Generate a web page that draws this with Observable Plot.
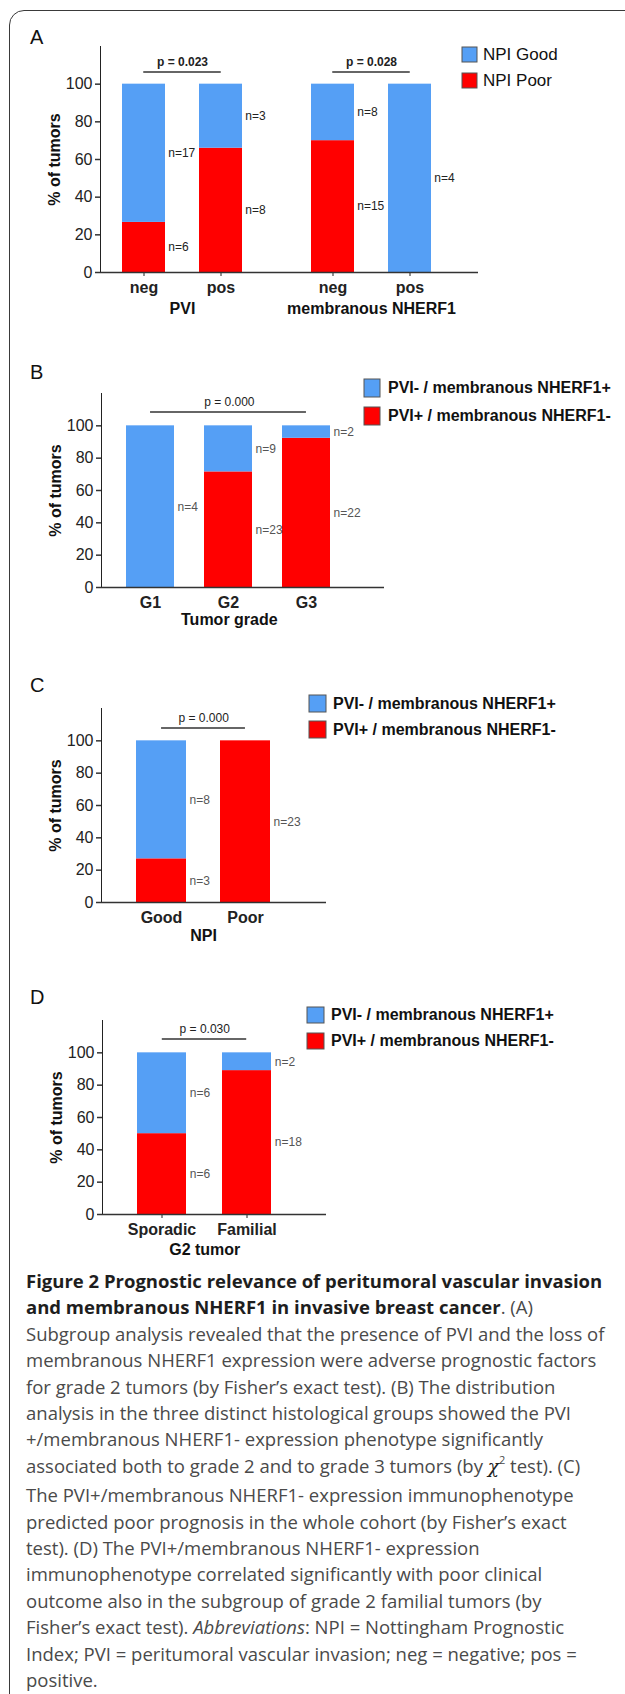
<!DOCTYPE html>
<html>
<head>
<meta charset="utf-8">
<script src="https://cdn.jsdelivr.net/npm/d3@7"></script>
<script src="https://cdn.jsdelivr.net/npm/@observablehq/plot@0.6"></script>
<style>
  html, body { margin: 0; padding: 0; background: #fff; }
  #page { position: relative; width: 625px; height: 1694px; overflow: hidden; background: #fff;
          font-family: "Liberation Sans", Arial, sans-serif; }
  #frame { position: absolute; left: 9px; top: 10px; width: 800px; height: 1800px;
           border: 1.5px solid #3a3a3a; border-radius: 15px; box-sizing: border-box; }
  .panel-label { position: absolute; left: 30px; font-size: 20px; line-height: 20px; color: #111; }
  .chart { position: absolute; }
  .chart svg g[aria-label^="x-axis"] text { font-weight: bold; font-size: 16px; }
  .chart svg g[aria-label^="y-axis"] path,
  .chart svg g[aria-label^="y-axis"] line { stroke-width: 1.5px; stroke: #333; }
  .chart svg g[aria-label^="x-axis"] line { stroke-width: 1.5px; stroke: #333; }
  .legend { position: absolute; width: 300px; }
  .lga-swatches, .lgb-swatches, .lgc-swatches, .lgd-swatches {
    margin: 0 !important; color: #111 !important; font-family: "Liberation Sans", Arial, sans-serif !important; }
  .lga-swatches { font-size: 17px !important; font-weight: normal !important; }
  .lgb-swatches, .lgc-swatches, .lgd-swatches { font-size: 16px !important; font-weight: bold !important; }
  .lga-swatch, .lgc-swatch { padding-bottom: 9px !important; }
  .lgb-swatch, .lgd-swatch { padding-bottom: 10px !important; }
  .lga-swatch svg rect, .lgb-swatch svg rect, .lgc-swatch svg rect, .lgd-swatch svg rect { stroke: #555; stroke-width: 1px; }
  .lga-swatch-label, .lgb-swatch-label, .lgc-swatch-label, .lgd-swatch-label {
    overflow: visible !important; max-width: none !important; line-height: 1 !important; }
  .lga-swatch svg { margin-right: 6px !important; }
  .lgb-swatch svg { margin-right: 8px !important; }
  .lgc-swatch svg, .lgd-swatch svg { margin-right: 7px !important; }
  #caption { position: absolute; left: 26px; top: 1268px; width: 600px;
             font-family: "Open Sans", "Noto Sans", sans-serif; font-size: 18.5px; line-height: 26.4px; color: #4a4a4a; }
  #caption div { white-space: nowrap; }
  #caption b { color: #1e1e1e; font-weight: bold; }
  .chi { font-family: "DejaVu Serif", "Liberation Serif", serif; font-style: italic; color: #222; }
  .sup2 { font-size: 11px; position: relative; top: -9px; }
</style>
</head>
<body>
<div id="page">
  <div id="frame"></div>
  <div class="panel-label" style="top:27px">A</div>
  <div class="panel-label" style="top:362px">B</div>
  <div class="panel-label" style="top:675px">C</div>
  <div class="panel-label" style="top:987px">D</div>
  <div id="caption">
    <div><b>Figure 2 Prognostic relevance of peritumoral vascular invasion</b></div>
    <div><b>and membranous NHERF1 in invasive breast cancer</b>. (A)</div>
    <div>Subgroup analysis revealed that the presence of PVI and the loss of</div>
    <div>membranous NHERF1 expression were adverse prognostic factors</div>
    <div>for grade 2 tumors (by Fisher’s exact test). (B) The distribution</div>
    <div>analysis in the three distinct histological groups showed the PVI</div>
    <div>+/membranous NHERF1- expression phenotype significantly</div>
    <div>associated both to grade 2 and to grade 3 tumors (by <span class="chi">χ</span><span class="sup2">2</span> test). (C)</div>
    <div>The PVI+/membranous NHERF1- expression immunophenotype</div>
    <div>predicted poor prognosis in the whole cohort (by Fisher’s exact</div>
    <div>test). (D) The PVI+/membranous NHERF1- expression</div>
    <div>immunophenotype correlated significantly with poor clinical</div>
    <div>outcome also in the subgroup of grade 2 familial tumors (by</div>
    <div>Fisher’s exact test). <i>Abbreviations</i>: NPI = Nottingham Prognostic</div>
    <div>Index; PVI = peritumoral vascular invasion; neg = negative; pos =</div>
    <div>positive.</div>
  </div>
</div>
<script>
// ---------- data ----------
const seriesNPI = ["NPI Good", "NPI Poor"];
const seriesPVI = ["PVI- / membranous NHERF1+", "PVI+ / membranous NHERF1-"];
const yTicks = [0, 20, 40, 60, 80, 100];
const yLabel = "% of tumors";

// Panel A (two groups)
const aCategories = ["neg", "pos"];
const aPVIPoorPct = [26.6, 66];
const aPVIGoodN = [17, 3];
const aPVIPoorN = [6, 8];
const aPVIPValue = "p = 0.023";
const aPVITitle = "PVI";
const aMembPoorPct = [70, 0];
const aMembGoodN = [8, 4];
const aMembPoorN = [15, null];
const aMembPValue = "p = 0.028";
const aMembTitle = "membranous NHERF1";

// Panel B
const bCategories = ["G1", "G2", "G3"];
const bRedPct = [0, 71.5, 92.3];
const bBlueN = [4, 9, 2];
const bRedN = [null, 23, 22];
const bPValue = "p = 0.000";
const bTitle = "Tumor grade";

// Panel C
const cCategories = ["Good", "Poor"];
const cRedPct = [27, 100];
const cBlueN = [8, null];
const cRedN = [3, 23];
const cPValue = "p = 0.000";
const cTitle = "NPI";

// Panel D
const dCategories = ["Sporadic", "Familial"];
const dRedPct = [50, 89];
const dBlueN = [6, 2];
const dRedN = [6, 18];
const dPValue = "p = 0.030";
const dTitle = "G2 tumor";

// ---------- styles / layout ----------
const BLUE = "#559ff5", RED = "#ff0000";
const yMax = 120;
const FONT = "'Liberation Sans', Arial, sans-serif";

function rowsOf(cats, redPct, blueN, redN, series) {
  const rows = [];
  cats.forEach((c, i) => {
    rows.push({cat: c, series: series[1], value: redPct[i], n: redN[i]});
    rows.push({cat: c, series: series[0], value: 100 - redPct[i], n: blueN[i]});
  });
  return rows.filter(d => d.value > 0);
}

function band(W, n, pi, po) {
  const step = W / (n - pi + 2 * po);
  return {step, bw: step * (1 - pi)};
}

function panel(cfg) {
  const {cats, rows, series, pText, title, yAxis, width, height, marginLeft, marginRight,
         marginTop, marginBottom, pi, po, align, nColor, pBold, titleDy, bracketY,
         xTickSize = 0, xTickPadding = 9} = cfg;
  const W = width - marginLeft - marginRight;
  const {step, bw} = band(W, cats.length, pi, po);
  const mid = (cats.length - 1) * step / 2;
  const marks = [
    Plot.barY(rows, {x: "cat", y: "value", fill: "series"}),
    Plot.ruleY([0], {stroke: "#333", strokeWidth: 1.5}),
    Plot.text(rows, Plot.stackY({x: "cat", y: "value", text: d => "n=" + d.n,
      textAnchor: "start", dx: bw / 2 + 3, fontSize: 12, fill: nColor})),
    Plot.ruleY([bracketY], {x1: () => cats[0], x2: () => cats[cats.length - 1],
      insetLeft: bw / 2, insetRight: bw / 2, stroke: "#333", strokeWidth: 1.5}),
    Plot.text([pText], {x: () => cats[0], y: () => bracketY, text: d => d, dx: mid, dy: -10,
      fontSize: 12, fontWeight: pBold ? "bold" : "normal", fill: "#222"}),
    Plot.text([title], {x: () => cats[0], frameAnchor: "bottom", text: d => d, dx: mid, dy: titleDy,
      textAnchor: "middle", lineAnchor: "middle", fontSize: 16, fontWeight: "bold", fill: "#111"})
  ];
  if (yAxis) {
    marks.push(Plot.text([yLabel], {y: () => yMax / 2, frameAnchor: "left", rotate: -90, dx: -46,
      text: d => d, textAnchor: "middle", lineAnchor: "middle", fontSize: 16, fontWeight: "bold", fill: "#111"}));
  }
  return Plot.plot({
    width, height, marginLeft, marginRight, marginTop, marginBottom,
    style: {fontFamily: FONT, fontSize: "16px", color: "#222", background: "transparent", overflow: "visible"},
    x: {domain: cats, paddingInner: pi, paddingOuter: po, align, axis: "bottom",
        tickSize: xTickSize, tickPadding: xTickPadding, label: null},
    y: yAxis ? {domain: [0, yMax], ticks: yTicks, tickSize: 5, tickPadding: 3, line: true, label: null}
             : {domain: [0, yMax], axis: null},
    color: {domain: series, range: [BLUE, RED]},
    marks
  });
}

function place(el, left, top, id, cls) {
  const div = document.createElement("div");
  div.className = cls;
  if (id) div.id = id;
  div.style.left = left + "px";
  div.style.top = top + "px";
  div.append(el);
  document.getElementById("page").append(div);
}

function legend(series, cls, w, h) {
  return Plot.legend({
    color: {domain: series, range: [BLUE, RED]},
    legend: "swatches", columns: 1, swatchWidth: w, swatchHeight: h, className: cls
  });
}

// Panel A
const aCommon = {series: seriesNPI, cats: aCategories, height: 322, marginTop: 46, marginBottom: 50,
  pi: 0.448, po: 0.451, align: 0.317, nColor: "#222", pBold: true, titleDy: 36, bracketY: 106.5,
  xTickSize: 4, xTickPadding: 5};
place(panel({...aCommon, rows: rowsOf(aCategories, aPVIPoorPct, aPVIGoodN, aPVIPoorN, seriesNPI),
  pText: aPVIPValue, title: aPVITitle, yAxis: true, width: 289, marginLeft: 100, marginRight: 0}), 0, 0, null, "chart");
place(panel({...aCommon, rows: rowsOf(aCategories, aMembPoorPct, aMembGoodN, aMembPoorN, seriesNPI),
  pText: aMembPValue, title: aMembTitle, yAxis: false, width: 336, marginLeft: 0, marginRight: 147}), 289, 0, null, "chart");
place(legend(seriesNPI, "lga", 15, 15), 462, 46, "legA", "legend");

// Panel B
place(panel({series: seriesPVI, cats: bCategories, rows: rowsOf(bCategories, bRedPct, bBlueN, bRedN, seriesPVI),
  pText: bPValue, title: bTitle, yAxis: true, width: 625, height: 272, marginLeft: 101, marginRight: 241,
  marginTop: 33, marginBottom: 45, pi: 0.39, po: 0.49, align: 0.32, nColor: "#555", pBold: false,
  titleDy: 32, bracketY: 108.5}), 0, 360, null, "chart");
place(legend(seriesPVI, "lgb", 16, 18), 364, 379, "legB", "legend");

// Panel C
place(panel({series: seriesPVI, cats: cCategories, rows: rowsOf(cCategories, cRedPct, cBlueN, cRedN, seriesPVI),
  pText: cPValue, title: cTitle, yAxis: true, width: 625, height: 272, marginLeft: 101, marginRight: 299,
  marginTop: 33, marginBottom: 45, pi: 0.405, po: 0.538, align: 0.39, nColor: "#555", pBold: false,
  titleDy: 33, bracketY: 108}), 0, 675, null, "chart");
place(legend(seriesPVI, "lgc", 17, 17), 309, 695, "legC", "legend");

// Panel D
place(panel({series: seriesPVI, cats: dCategories, rows: rowsOf(dCategories, dRedPct, dBlueN, dRedN, seriesPVI),
  pText: dPValue, title: dTitle, yAxis: true, width: 625, height: 272, marginLeft: 102, marginRight: 299,
  marginTop: 33, marginBottom: 45, pi: 0.42, po: 0.52, align: 0.39, nColor: "#555", pBold: false,
  titleDy: 35, bracketY: 108.5, xTickSize: 4, xTickPadding: 5}), 0, 987, null, "chart");
place(legend(seriesPVI, "lgd", 17, 16), 307, 1007, "legD", "legend");
</script>
</body>
</html>
